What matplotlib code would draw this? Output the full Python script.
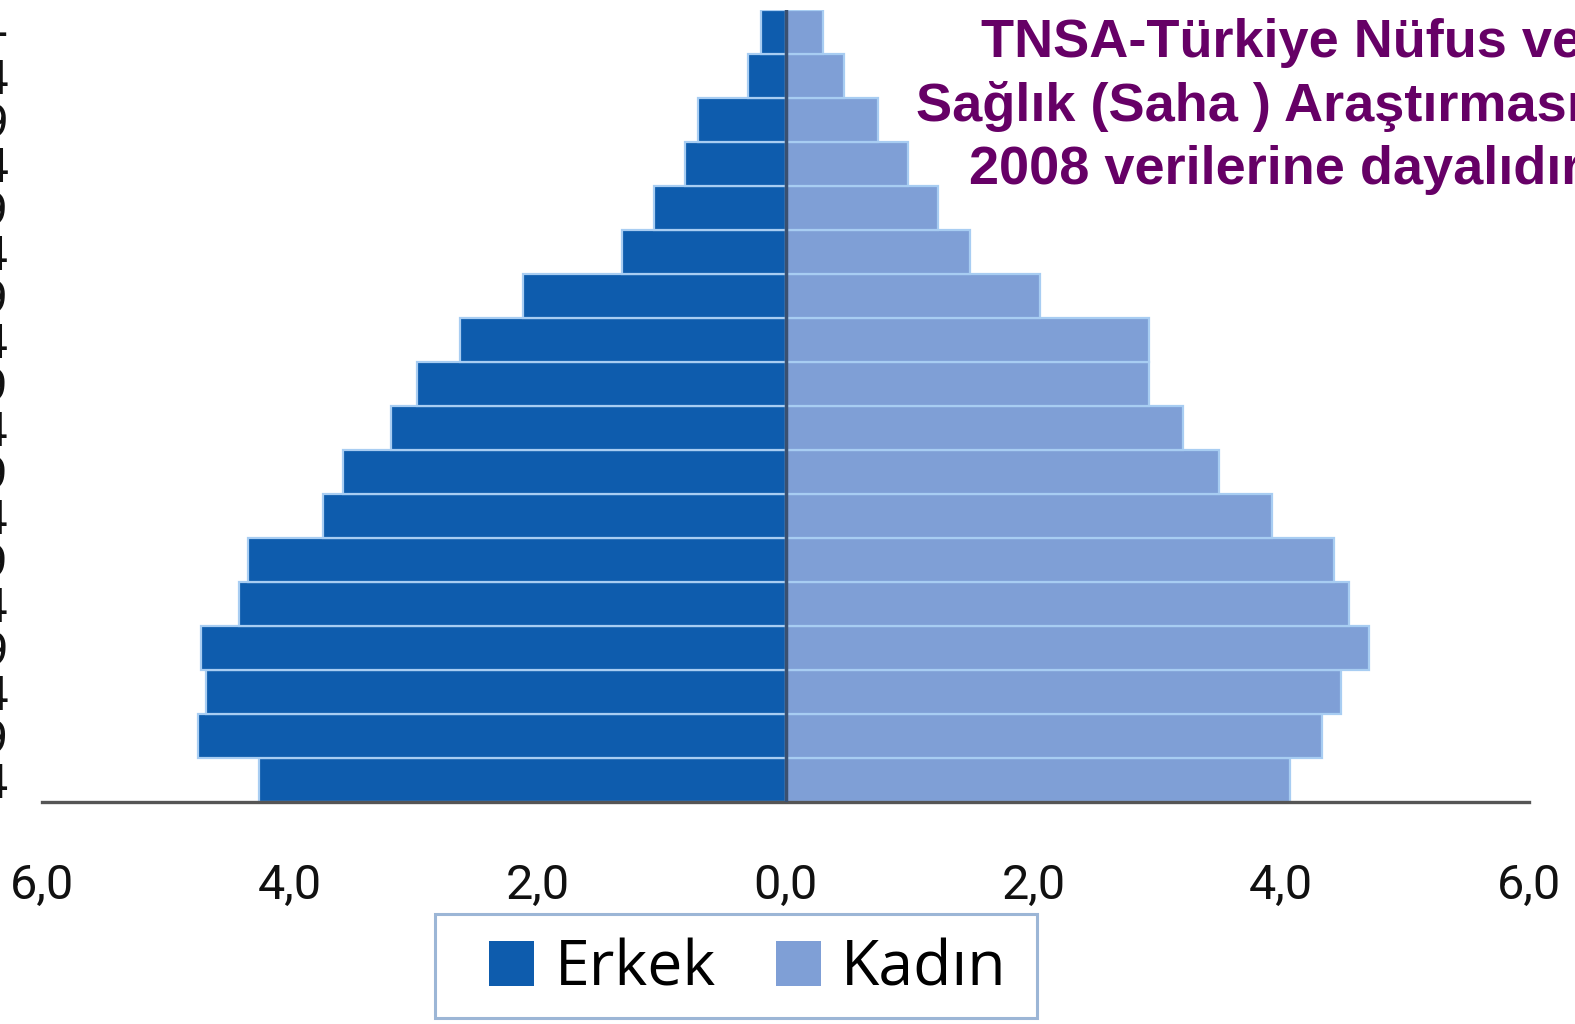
import matplotlib
matplotlib.use("Agg")
import matplotlib.pyplot as plt
from matplotlib.patches import Rectangle, Patch
import numpy as np

# ---- data ----
age_groups = ["0-4", "5-9", "10-14", "15-19", "20-24", "25-29", "30-34", "35-39",
              "40-44", "45-49", "50-54", "55-59", "60-64", "65-69", "70-74",
              "75-79", "80-84", "85+"]
erkek = [4.25, 4.74, 4.68, 4.72, 4.41, 4.34, 3.73, 3.57, 3.18, 2.97, 2.63, 2.12,
         1.32, 1.06, 0.81, 0.71, 0.30, 0.20]
kadin = [4.07, 4.33, 4.48, 4.71, 4.55, 4.43, 3.93, 3.50, 3.21, 2.93, 2.93, 2.05,
         1.49, 1.23, 0.99, 0.75, 0.47, 0.30]
xticks = [-6, -4, -2, 0, 2, 4, 6]
xtick_labels = ["6,0", "4,0", "2,0", "0,0", "2,0", "4,0", "6,0"]
series_names = ["Erkek", "Kadın"]
title_lines = ["TNSA-Türkiye Nüfus ve", "Sağlık (Saha ) Araştırması", "2008 verilerine dayalıdır"]

W, H = 1575, 1024
fig = plt.figure(figsize=(W / 100, H / 100), dpi=100)
fig.patch.set_facecolor("white")

# axes placement in pixels
left, right, bottom, top = 42, 1529, 802, 10
ax = fig.add_axes([left / W, 1 - bottom / H, (right - left) / W, (bottom - top) / H])

c_m = "#0e5cad"
c_f = "#7f9fd6"
sep = "#a8cdf2"
y = np.arange(len(age_groups))
ax.barh(y, [-v for v in erkek], height=1.0, color=c_m, edgecolor=sep, linewidth=1.6)
ax.barh(y, kadin, height=1.0, color=c_f, edgecolor=sep, linewidth=1.6)
ax.axvline(0, color="#3a5070", linewidth=2.5, zorder=3)

ax.set_xlim(-6, 6)
ax.set_ylim(-0.5, len(age_groups) - 0.5)
for s in ["top", "right", "left"]:
    ax.spines[s].set_visible(False)
ax.spines["bottom"].set_color("#555555")
ax.spines["bottom"].set_linewidth(2.4)

tick_font = ["Roboto", "DejaVu Sans"]
ax.set_xticks(xticks)
ax.set_xticklabels(xtick_labels, fontsize=35, family=tick_font, color="#111111")
ax.tick_params(axis="x", length=0, pad=44)
ax.set_yticks(y)
ax.set_yticklabels(age_groups, fontsize=35, family=tick_font, color="#111111")
ax.tick_params(axis="y", length=0, pad=24)

# title text (cut at right edge as in reference)
tx = 1582 / W
for line, yb in zip(title_lines, [57, 121, 184]):
    fig.text(tx, 1 - yb / H, line, ha="right", va="baseline", fontsize=39,
             fontweight="bold", family=["Liberation Sans", "DejaVu Sans"], color="#660066")

# legend
handles = [Patch(facecolor=c_m, edgecolor="none"), Patch(facecolor=c_f, edgecolor="none")]
leg = fig.legend(handles, series_names, loc="center", ncol=2,
                 bbox_to_anchor=(748 / W, 1 - 969 / H), frameon=False,
                 prop={"family": ["Open Sans", "DejaVu Sans"], "size": 45},
                 handlelength=0.72, handleheight=0.72, handletextpad=0.33,
                 columnspacing=0.95)
fig.patches.append(Rectangle((435 / W, 1 - 1018 / H), (1037 - 435) / W, (1018 - 914) / H,
                             transform=fig.transFigure, fill=False,
                             edgecolor="#9cb6d6", linewidth=2.2))

fig.savefig("out.png", dpi=100)
